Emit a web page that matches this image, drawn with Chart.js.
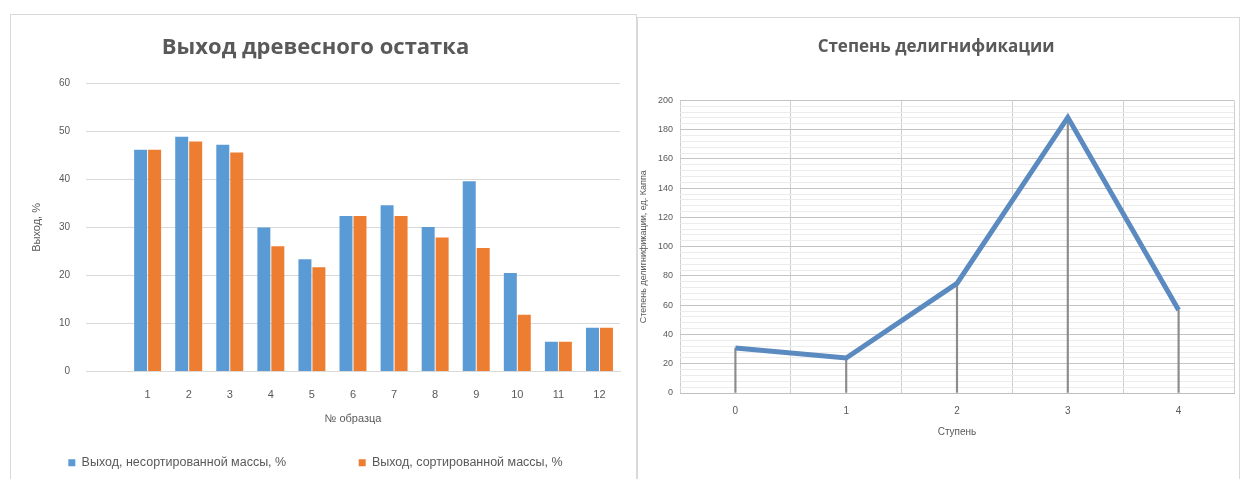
<!DOCTYPE html>
<html>
<head>
<meta charset="utf-8">
<script src="https://cdn.jsdelivr.net/npm/chart.js@4.4.1/dist/chart.umd.min.js"></script>
<style>
  body { margin: 0; background: #fff; width: 1240px; height: 479px; overflow: hidden; position: relative; }
  .box { position: absolute; border: 1px solid #d9d9d9; background: #fff; }
  #leftBox { left: 10px; top: 14px; width: 625px; height: 480px; }
  #rightBox { left: 637px; top: 17px; width: 601px; height: 480px; }
  canvas { position: absolute; left: 0; top: 0; }
</style>
</head>
<body>
<div class="box" id="leftBox"><canvas id="yieldChart" width="625" height="464"></canvas></div>
<div class="box" id="rightBox"><canvas id="kappaChart" width="601" height="461"></canvas></div>
<script>
// левая диаграмма: выход древесного остатка по образцам
const samples = ['', '1', '2', '3', '4', '5', '6', '7', '8', '9', '10', '11', '12']
const unsortedYield = [null, 46.2, 48.9, 47.2, 30.0, 23.4, 32.4, 34.6, 30.1, 39.6, 20.5, 6.2, 9.1]
const sortedYield = [null, 46.2, 47.9, 45.6, 26.1, 21.7, 32.4, 32.4, 27.9, 25.7, 11.8, 6.2, 9.1]
const yieldTicks = [0, 10, 20, 30, 40, 50, 60]

// правая диаграмма: степень делигнификации по ступеням
const stages = ['0', '1', '2', '3', '4']
const kappa = [30.7, 23.9, 74.9, 188.4, 56.7]
const kappaTicks = [0, 20, 40, 60, 80, 100, 120, 140, 160, 180, 200]

const textColor = '#595959'
const tickFont = { family: 'Liberation Sans', size: 11 }

const legendSpacer = chart => {
  const items = Chart.defaults.plugins.legend.labels.generateLabels(chart)
  items.forEach((it, i) => {
    if (i < items.length - 1) it.text += '\u00a0'.repeat(18)
  })
  return items
}

new Chart(document.getElementById('yieldChart'), {
  type: 'bar',
  data: {
    labels: samples,
    datasets: [
      {
        label: 'Выход, несортированной массы, %',
        data: unsortedYield,
        backgroundColor: '#5B9BD5',
        categoryPercentage: 0.68,
        barPercentage: 0.93
      },
      {
        label: 'Выход, сортированной массы, %',
        data: sortedYield,
        backgroundColor: '#ED7D31',
        categoryPercentage: 0.68,
        barPercentage: 0.93
      }
    ]
  },
  options: {
    responsive: false,
    animation: false,
    layout: { padding: { left: 0, right: 16, top: 0, bottom: 0 } },
    plugins: {
      title: {
        display: true,
        text: 'Выход древесного остатка',
        color: textColor,
        font: { family: 'Open Sans', size: 22, weight: 'bold', lineHeight: 1.2 },
        padding: { top: 20, bottom: 22 }
      },
      legend: {
        position: 'bottom',
        labels: {
          color: textColor,
          font: { family: 'Liberation Sans', size: 12.5 },
          boxWidth: 7,
          boxHeight: 7,
          padding: 10,
          generateLabels: legendSpacer
        }
      },
      tooltip: { enabled: false }
    },
    scales: {
      x: {
        grid: { display: false },
        border: { color: '#d9d9d9' },
        ticks: { color: textColor, font: tickFont, padding: 9 },
        title: {
          display: true,
          text: '№ образца',
          color: textColor,
          font: { family: 'Liberation Sans', size: 11 },
          padding: { top: 0, bottom: 21 }
        },
        afterFit: scale => { scale.height = 75 }
      },
      y: {
        min: yieldTicks[0],
        max: yieldTicks[yieldTicks.length - 1],
        afterBuildTicks: scale => { scale.ticks = yieldTicks.map(v => ({ value: v })) },
        grid: { color: '#d9d9d9', drawTicks: false },
        border: { display: false },
        ticks: { color: textColor, font: { family: 'Liberation Sans', size: 10 }, padding: 16 },
        title: {
          display: true,
          text: 'Выход, %',
          color: textColor,
          font: { family: 'Liberation Sans', size: 11 },
          padding: { top: 19, bottom: 0 }
        },
        afterFit: scale => { scale.width = 75 }
      }
    }
  }
})

new Chart(document.getElementById('kappaChart'), {
  type: 'line',
  data: {
    labels: stages,
    datasets: [
      {
        type: 'line',
        label: 'Степень делигнификации',
        data: kappa,
        borderColor: '#5A8AC0',
        borderWidth: 5,
        borderJoinStyle: 'miter',
        pointRadius: 0,
        tension: 0,
        order: 0
      },
      {
        // линии проекции от точек к оси
        type: 'bar',
        label: 'drop',
        data: kappa,
        backgroundColor: '#8c8c8c',
        barThickness: 1.5,
        order: 1
      }
    ]
  },
  options: {
    responsive: false,
    animation: false,
    layout: { padding: { left: 0, right: 5, top: 0, bottom: 0 } },
    plugins: {
      title: {
        display: true,
        text: 'Степень делигнификации',
        color: textColor,
        font: { family: 'Open Sans', size: 17, weight: 'bold', lineHeight: 1.2 },
        padding: { top: 19, bottom: 43 }
      },
      legend: { display: false },
      tooltip: { enabled: false }
    },
    scales: {
      x: {
        offset: true,
        grid: { offset: true, color: '#cfcfcf', drawTicks: false },
        border: { color: '#bfbfbf' },
        ticks: { color: textColor, font: { family: 'Liberation Sans', size: 10 }, padding: 12 },
        title: {
          display: true,
          text: 'Ступень',
          color: textColor,
          font: { family: 'Liberation Sans', size: 10 },
          padding: { top: 0, bottom: 41 }
        },
        afterFit: scale => { scale.height = 86 }
      },
      y: {
        min: kappaTicks[0],
        max: kappaTicks[kappaTicks.length - 1],
        ticks: {
          stepSize: 4,
          autoSkip: false,
          color: textColor,
          font: { family: 'Liberation Sans', size: 9 },
          padding: 7,
          callback: v => (kappaTicks.includes(v) ? v : '')
        },
        grid: {
          drawTicks: false,
          color: ctx => (kappaTicks.includes(ctx.tick.value) ? '#c4c4c4' : '#ececec')
        },
        border: { display: false },
        title: {
          display: true,
          text: 'Степень делигнификации, ед. Каппа',
          color: textColor,
          font: { family: 'Liberation Sans', size: 9 },
          padding: { top: 0, bottom: 0 }
        },
        afterFit: scale => { scale.width = 42 }
      }
    }
  }
})
</script>
</body>
</html>
